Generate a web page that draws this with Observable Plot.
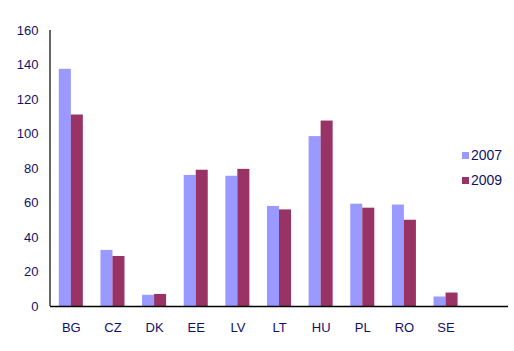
<!DOCTYPE html>
<html>
<head>
<meta charset="utf-8">
<script src="https://cdn.jsdelivr.net/npm/d3@7"></script>
<script src="https://cdn.jsdelivr.net/npm/@observablehq/plot@0.6"></script>
<style>
  html, body { margin: 0; padding: 0; background: #fff; }
  #wrap { position: relative; width: 514px; height: 351px; font-family: "Liberation Sans", Arial, sans-serif; }
  #legend { position: absolute; left: 462px; top: 143px; font-size: 14px; color: #10106a; line-height: 24.5px; }
  #legend .sw { display: inline-block; width: 7px; height: 7px; margin-right: 2px; vertical-align: 1px; }
</style>
</head>
<body>
<div id="wrap"><div id="chart"></div><div id="legend"></div></div>
<script>
const categories = ["BG", "CZ", "DK", "EE", "LV", "LT", "HU", "PL", "RO", "SE"];
const series = ["2007", "2009"];
const values2007 = [137.5, 32.5, 6.5, 76, 75.5, 58, 98.5, 59.3, 58.8, 5.5];
const values2009 = [111, 29, 7, 79, 79.5, 56, 107.5, 57, 50, 7.8];
const yTicks = [0, 20, 40, 60, 80, 100, 120, 140, 160];
const colors = ["#9999FF", "#993366"];

const rows2007 = categories.map((c, i) => ({category: c, value: values2007[i]}));
const rows2009 = categories.map((c, i) => ({category: c, value: values2009[i]}));
const domainX = [...categories, " "];

const ink = "#10106a";
const chart = Plot.plot({
  width: 514,
  height: 351,
  marginLeft: 50,
  marginRight: 6,
  marginTop: 30,
  marginBottom: 45,
  style: {fontFamily: "Liberation Sans, Arial, sans-serif", fontSize: "13px", color: ink, background: "#fff"},
  x: {domain: domainX, paddingInner: 0.423, paddingOuter: 0.2115, align: 0.5, round: false, label: null},
  y: {domain: [0, 160], label: null},
  marks: [
    Plot.barY(rows2007, {x: "category", y: "value", fill: colors[0], insetRight: 12, insetLeft: 0}),
    Plot.barY(rows2009, {x: "category", y: "value", fill: colors[1], insetLeft: 12, insetRight: 0}),
    Plot.axisY({ticks: yTicks, tickSize: 0, tickPadding: 12, label: null, fill: ink}),
    Plot.axisX({tickSize: 0, tickPadding: 16, label: null, fill: ink, tickFormat: d => d.trim()}),
    Plot.ruleY([0], {stroke: "#000", strokeWidth: 1.5}),
  ]
});
document.getElementById("chart").appendChild(chart);

// y axis line at left edge of the plot area
const svg = d3.select(chart);
svg.append("line")
  .attr("x1", 50).attr("x2", 50)
  .attr("y1", 30).attr("y2", 306)
  .attr("stroke", "#000").attr("stroke-width", 1.2);

const legend = document.getElementById("legend");
series.forEach((s, i) => {
  const row = document.createElement("div");
  row.innerHTML = `<span class="sw" style="background:${colors[i]}"></span>${s}`;
  legend.appendChild(row);
});
</script>
</body>
</html>
